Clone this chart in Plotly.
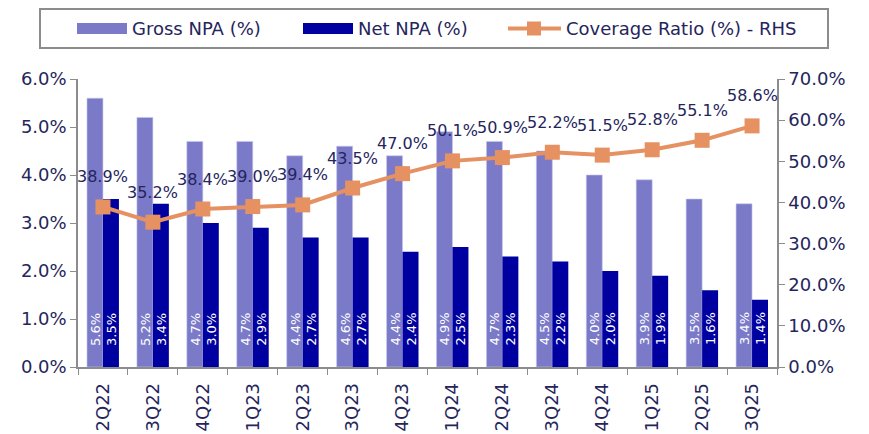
import plotly.graph_objects as go

quarters = ["2Q22", "3Q22", "4Q22", "1Q23", "2Q23", "3Q23", "4Q23",
            "1Q24", "2Q24", "3Q24", "4Q24", "1Q25", "2Q25", "3Q25"]
gross_npa = [5.6, 5.2, 4.7, 4.7, 4.4, 4.6, 4.4, 4.9, 4.7, 4.5, 4.0, 3.9, 3.5, 3.4]
net_npa = [3.5, 3.4, 3.0, 2.9, 2.7, 2.7, 2.4, 2.5, 2.3, 2.2, 2.0, 1.9, 1.6, 1.4]
coverage = [38.9, 35.2, 38.4, 39.0, 39.4, 43.5, 47.0, 50.1, 50.9, 52.2, 51.5, 52.8, 55.1, 58.6]
left_ticks = [0, 1, 2, 3, 4, 5, 6]
right_ticks = [0, 10, 20, 30, 40, 50, 60, 70]
legend_names = ["Gross NPA (%)", "Net NPA (%)", "Coverage Ratio (%) - RHS"]

C_GROSS = "#7A7AC9"
C_NET = "#0000A0"
C_LINE = "#E69162"
C_TEXT = "#25255C"
C_AXIS = "#8C8C8C"
FONT = "DejaVu Sans"

W, H = 869, 434
ML, MR, MT, MB = 78, 92, 79, 67
PW, PH = W - ML - MR, H - MT - MB


def px(x):
    return (x - ML) / PW


def py(y):
    return (H - MB - y) / PH


fig = go.Figure()
fig.add_trace(go.Bar(x=quarters, y=gross_npa, name=legend_names[0],
                     marker=dict(color=C_GROSS, line=dict(color="#C8C8EE", width=0.6)),
                     yaxis="y", showlegend=False))
fig.add_trace(go.Bar(x=quarters, y=net_npa, name=legend_names[1],
                     marker=dict(color=C_NET, line=dict(width=0)),
                     yaxis="y", showlegend=False))
fig.add_trace(go.Scatter(x=quarters, y=coverage, name=legend_names[2],
                         mode="lines+markers", yaxis="y2",
                         line=dict(color=C_LINE, width=4),
                         marker=dict(symbol="square", size=15, color=C_LINE),
                         showlegend=False))

annotations = []
for q, g, n in zip(quarters, gross_npa, net_npa):
    annotations.append(dict(x=q, y=0, xref="x", yref="y", text=f"{g:.1f}%",
                            showarrow=False, textangle=-90, xanchor="center",
                            yanchor="middle", xshift=-8, yshift=38,
                            font=dict(family=FONT, size=13, color="white")))
    annotations.append(dict(x=q, y=0, xref="x", yref="y", text=f"{n:.1f}%",
                            showarrow=False, textangle=-90, xanchor="center",
                            yanchor="middle", xshift=8, yshift=38,
                            font=dict(family=FONT, size=13, color="white")))
for q, c in zip(quarters, coverage):
    annotations.append(dict(x=q, y=c, xref="x", yref="y2", text=f"{c:.1f}%",
                            showarrow=False, xanchor="center", yanchor="middle",
                            yshift=30, font=dict(family=FONT, size=16, color=C_TEXT)))

# custom legend
shapes = [
    dict(type="rect", xref="paper", yref="paper", x0=px(40), x1=px(828),
         y0=py(48), y1=py(9), line=dict(color=C_AXIS, width=2), fillcolor="white"),
    dict(type="rect", xref="paper", yref="paper", x0=px(77), x1=px(127),
         y0=py(34), y1=py(23), line=dict(width=0), fillcolor=C_GROSS),
    dict(type="rect", xref="paper", yref="paper", x0=px(303), x1=px(353),
         y0=py(34), y1=py(23), line=dict(width=0), fillcolor=C_NET),
    dict(type="line", xref="paper", yref="paper", x0=px(508), x1=px(561),
         y0=py(28.5), y1=py(28.5), line=dict(color=C_LINE, width=4)),
    dict(type="rect", xref="paper", yref="paper", x0=px(527), x1=px(541),
         y0=py(35.5), y1=py(21.5), line=dict(width=0), fillcolor=C_LINE),
]
for name, x0 in zip(legend_names, [132, 358, 566]):
    annotations.append(dict(x=px(x0), y=py(28.5), xref="paper", yref="paper",
                            text=name, showarrow=False, xanchor="left",
                            yanchor="middle", xshift=-2,
                            font=dict(family=FONT, size=18, color=C_TEXT)))

fig.update_layout(
    width=W, height=H,
    margin=dict(l=ML, r=MR, t=MT, b=MB, pad=0, autoexpand=False),
    paper_bgcolor="white", plot_bgcolor="white",
    barmode="group", bargap=0.36, bargroupgap=0,
    font=dict(family=FONT, size=18, color=C_TEXT),
    xaxis=dict(type="category", range=[-0.5, len(quarters) - 0.5],
               tickangle=-90, showline=True, linecolor=C_AXIS,
               linewidth=1.5, ticks="outside", tickson="boundaries", ticklen=6,
               tickcolor=C_AXIS, showgrid=False, zeroline=False, automargin=False,
               ticklabelstandoff=7,
               tickfont=dict(family=FONT, size=18, color=C_TEXT)),
    yaxis=dict(range=[0, 6], tickvals=left_ticks,
               ticktext=[f"{v:.1f}%" for v in left_ticks],
               showline=True, linecolor=C_AXIS, linewidth=1.5, ticks="outside",
               ticklen=6, tickcolor=C_AXIS, showgrid=False, zeroline=False,
               automargin=False,
               tickfont=dict(family=FONT, size=18, color=C_TEXT)),
    yaxis2=dict(range=[0, 70], tickvals=right_ticks,
                ticktext=[f"{v:.1f}%" for v in right_ticks],
                overlaying="y", side="right", showline=True, linecolor=C_AXIS,
                linewidth=1.5, ticks="outside", ticklen=6, tickcolor=C_AXIS,
                showgrid=False, zeroline=False, automargin=False,
                tickfont=dict(family=FONT, size=18, color=C_TEXT)),
    shapes=shapes,
    annotations=annotations,
    showlegend=False,
)

fig.write_html("out.html", config={"displayModeBar": False},
               post_script="document.body.style.margin='0px';")
